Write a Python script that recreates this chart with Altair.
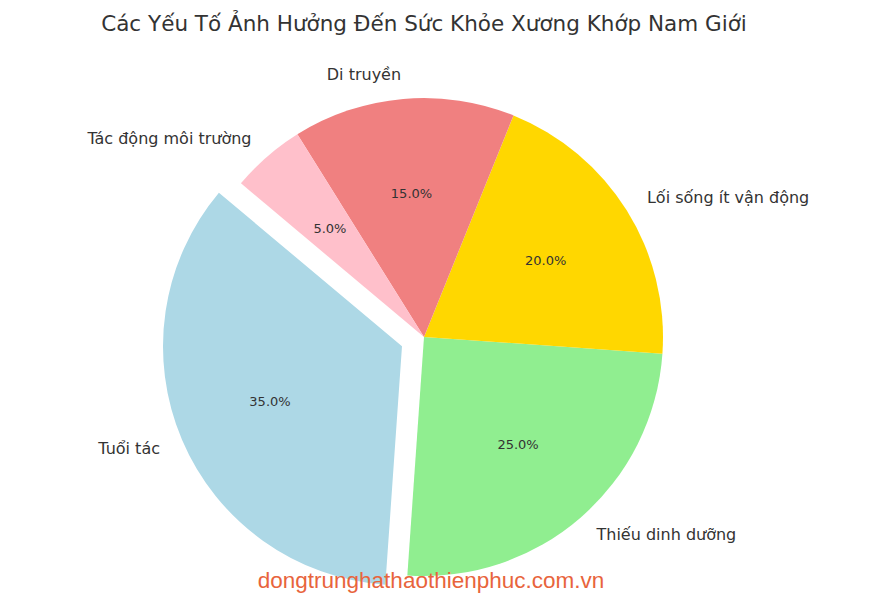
import math
import altair as alt
import pandas as pd

# ---- data ----
labels = ["Tuổi tác", "Thiếu dinh dưỡng", "Lối sống ít vận động", "Di truyền", "Tác động môi trường"]
values = [35, 25, 20, 15, 5]
colors = ["#add8e6", "#90ee90", "#ffd700", "#f08080", "#ffc0cb"]
title_text = "Các Yếu Tố Ảnh Hưởng Đến Sức Khỏe Xương Khớp Nam Giới"
watermark = ["dongtrunghathaothienphuc.com.vn"]
exploded = "Tuổi tác"

df = pd.DataFrame({"label": labels, "value": values, "order": list(range(len(labels)))})

# ---- style / layout ----
R = 239
START = 140  # start angle (math degrees, counter-clockwise)
TEXT = "#333333"
FONT = "DejaVu Sans"

# explode direction: mid angle of exploded slice
idx = labels.index(exploded)
frac_before = sum(values[:idx]) / sum(values)
frac_mid = frac_before + values[idx] / sum(values) / 2
ang = math.radians(START + 360 * frac_mid)
DX = 0.1 * R * math.cos(ang)
DY = -0.1 * R * math.sin(ang)

vstart = 90 - START  # vega angle (clockwise from top)
theta_scale = alt.Scale(domain=[0, 100],
                        range=[math.radians(vstart + 720), math.radians(vstart + 360)])

base = (
    alt.Chart(df)
    .transform_joinaggregate(total="sum(value)")
    .transform_calculate(p="100 * datum.value / datum.total")
    .transform_window(cum="sum(p)", sort=[{"field": "order"}], frame=[None, 0])
    .transform_calculate(
        start="datum.cum - datum.p",
        mid="datum.cum - datum.p / 2",
        pct="format(datum.p, '.1f') + '%'",
        right=f"cos(({START} + 3.6 * (datum.cum - datum.p / 2)) * PI / 180) > 0",
    )
)

color_enc = alt.Color("label:N", scale=alt.Scale(domain=labels, range=colors), legend=None)
is_ex = f"datum.label == '{exploded}'"
not_ex = f"datum.label != '{exploded}'"

arcs = base.transform_filter(not_ex).mark_arc(radius=R).encode(
    theta=alt.Theta("start:Q", scale=theta_scale), theta2="cum:Q", color=color_enc)
arc_ex = base.transform_filter(is_ex).mark_arc(radius=R, xOffset=DX, yOffset=DY).encode(
    theta=alt.Theta("start:Q", scale=theta_scale), theta2="cum:Q", color=color_enc)

def lab(filt, align, **kw):
    return base.transform_filter(filt).mark_text(
        align=align, baseline="middle", font=FONT, fontSize=16, color=TEXT,
        radius=R * 1.1, **kw).encode(
        theta=alt.Theta("mid:Q", scale=theta_scale), text="label:N")

lab_r = lab(f"({not_ex}) && datum.right", "left")
lab_l = lab(f"({not_ex}) && !datum.right", "right")
lab_ex = lab(is_ex, "right", xOffset=DX, yOffset=DY)

def pct(filt, **kw):
    return base.transform_filter(filt).mark_text(
        align="center", baseline="middle", font=FONT, fontSize=13, color=TEXT,
        radius=R * 0.6, **kw).encode(
        theta=alt.Theta("mid:Q", scale=theta_scale), text="pct:N")

pct_n = pct(not_ex)
pct_ex = pct(is_ex, xOffset=DX, yOffset=DY)

wm = alt.Chart(pd.DataFrame({"t": watermark})).mark_text(
    font="Liberation Sans", fontSize=22.5, color="#e8643c", align="center", baseline="alphabetic"
).encode(x=alt.value(423), y=alt.value(492), text="t:N")

chart = alt.layer(arcs, arc_ex, lab_r, lab_l, lab_ex, pct_n, pct_ex, wm).properties(
    width=832, height=482,
    padding={"left": 0, "right": 47, "top": 88, "bottom": 16},
    autosize="none",
    title=alt.TitleParams(title_text, fontSize=21.5, font=FONT, fontWeight="normal",
                          color=TEXT, frame="group", anchor="middle",
                          baseline="alphabetic", offset=15),
    background="white",
).configure_view(stroke=None)

chart.save("out.html", embed_options={"renderer": "svg", "actions": False})
